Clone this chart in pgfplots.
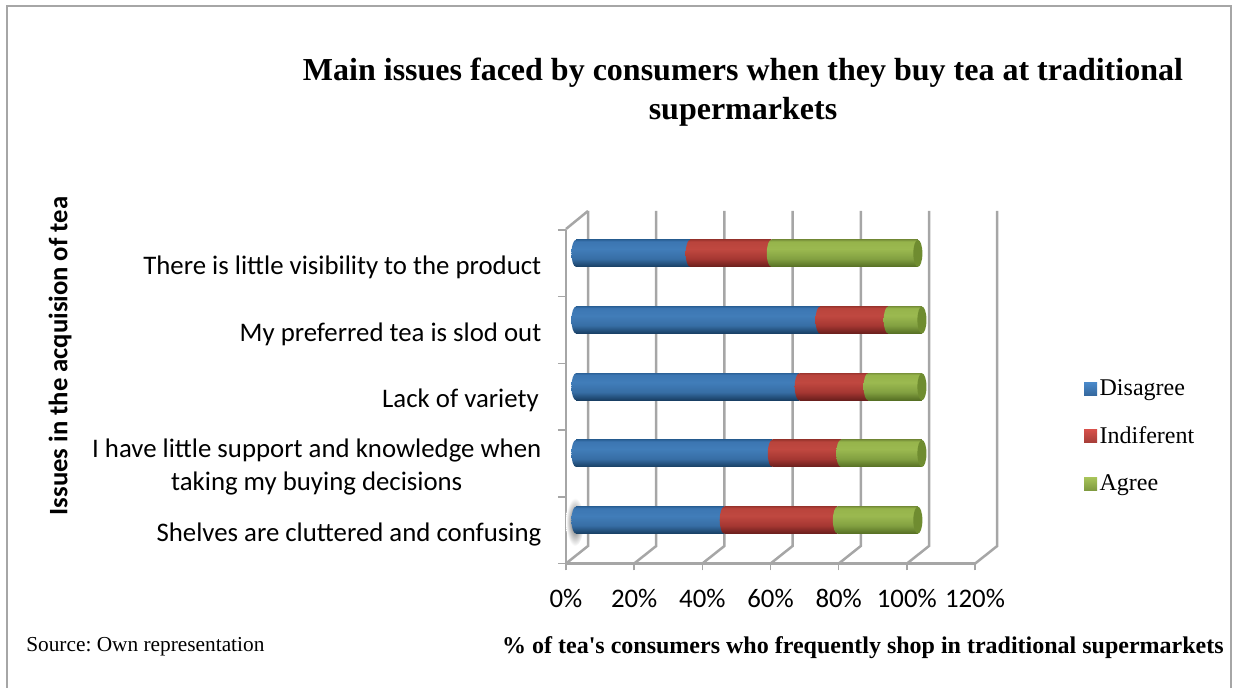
\documentclass[border=0pt]{standalone}
\usepackage{fontspec}
\setmainfont{Liberation Serif}
\newfontfamily\rawserif{Liberation Serif}
\newfontfamily\calibri{Carlito}
\usepackage{pgfplots}
\pgfplotsset{compat=1.18}

% all lengths below are reference pixels
\newcommand{\px}{0.75pt}
\definecolor{gridc}{HTML}{A6A6A6}
\definecolor{capc}{HTML}{6F8C30}
\definecolor{lbt}{HTML}{4A8ACB}\definecolor{lbb}{HTML}{35689E}
\definecolor{lrt}{HTML}{D6504A}\definecolor{lrb}{HTML}{A53E38}
\definecolor{lgt}{HTML}{A8C45A}\definecolor{lgb}{HTML}{7F9A3F}

% cylinder look: dark lower edge, flat body, thin rim on top
\pgfdeclareverticalshading{cylb}{100bp}{color(0bp)=(rgb,255:red,24;green,62;blue,98);color(25bp)=(rgb,255:red,24;green,62;blue,98);color(40bp)=(rgb,255:red,55;green,110;blue,165);color(58bp)=(rgb,255:red,65;green,125;blue,185);color(72bp)=(rgb,255:red,60;green,118;blue,178);color(75bp)=(rgb,255:red,45;green,100;blue,155);color(100bp)=(rgb,255:red,45;green,100;blue,155)}
\pgfdeclareverticalshading{cylr}{100bp}{color(0bp)=(rgb,255:red,105;green,30;blue,28);color(25bp)=(rgb,255:red,105;green,30;blue,28);color(40bp)=(rgb,255:red,165;green,55;blue,50);color(58bp)=(rgb,255:red,192;green,72;blue,64);color(72bp)=(rgb,255:red,185;green,68;blue,60);color(75bp)=(rgb,255:red,160;green,55;blue,48);color(100bp)=(rgb,255:red,160;green,55;blue,48)}
\pgfdeclareverticalshading{cylg}{100bp}{color(0bp)=(rgb,255:red,85;green,110;blue,35);color(25bp)=(rgb,255:red,85;green,110;blue,35);color(40bp)=(rgb,255:red,130;green,160;blue,65);color(58bp)=(rgb,255:red,155;green,185;blue,80);color(72bp)=(rgb,255:red,150;green,180;blue,75);color(75bp)=(rgb,255:red,125;green,150;blue,60);color(100bp)=(rgb,255:red,125;green,150;blue,60)}

\pgfdeclareplotmark{capb}{\path[draw=none,shade,shading=cylb] (canvas cs:x=0pt,y=10.125pt) arc[start angle=90,end angle=270,x radius=3.4pt,y radius=10.125pt] -- cycle;}
\pgfdeclareplotmark{capr}{\path[draw=none,shade,shading=cylr] (canvas cs:x=0pt,y=10.125pt) arc[start angle=90,end angle=270,x radius=3.4pt,y radius=10.125pt] -- cycle;}
\pgfdeclareplotmark{capg}{\path[draw=none,shade,shading=cylg] (canvas cs:x=0pt,y=10.125pt) arc[start angle=90,end angle=270,x radius=3.4pt,y radius=10.125pt] -- cycle;}
\pgfdeclareplotmark{capend}{\path[draw=none,fill=capc] (canvas cs:x=0pt,y=0pt) ellipse[x radius=3.4pt,y radius=10.125pt];}

\pgfplotsset{
  plotbox/.style={scale only axis,width=409*\px,height=333.5*\px,
    xmin=0,xmax=120,ymin=0.5,ymax=5.5,anchor=south west},
  hidden/.style={plotbox,hide axis,clip=false,at={(576*\px,{(688-553.5)*\px})}},
  swatch/.style 2 args={legend image code/.code={
    \path[draw=none,top color=#1,bottom color=#2] (canvas cs:x=0pt,y=-4.9pt) rectangle (canvas cs:x=9.75pt,y=4.9pt);}},
}
% one cylinder segment: shading, start, end, category position (half height 0.2025)
\newcommand{\seg}[4]{\addplot[draw=none,shading=#1,forget plot] coordinates
  {(#2,{#4-0.2025}) (#3,{#4-0.2025}) (#3,{#4+0.2025}) (#2,{#4+0.2025})} -- cycle;}

\begin{document}
\begin{tikzpicture}[x=\px,y=\px]
\path[use as bounding box] (0,0) rectangle (1233,688);
\draw[gridc,line width=2.5*\px] (7,0) -- (7,682) -- (1231,682) -- (1231,0);

% back wall and floor of the 3D box
\foreach \i in {0,...,6}{
  \draw[gridc,line width=2.5*\px] ({566+68.2*\i},{688-563.5}) -- ++(22,17.5) -- ++(0,335);
}
\draw[gridc,line width=2.5*\px] (566,{688-229}) -- ++(22,18);

\begin{axis}[plotbox,at={(566*\px,{(688-563.5)*\px})},
  axis x line=bottom,axis y line=left,
  axis line style={-,gridc,line width=2.5*\px},
  xtick={0,20,...,120},xticklabel={\pgfmathprintnumber{\tick}\%},
  ytick={1,...,5},
  yticklabels={Shelves are cluttered and confusing,
    {I have little support and knowledge when\\taking my buying decisions},
    Lack of variety\hspace{2pt},My preferred tea is slod out,There is little visibility to the product},
  minor ytick={0.5,1.5,...,5.5},
  /pgf/number format/assume math mode=true,
  ticklabel style={font=\calibri\fontsize{20.1}{24.75}\selectfont,text=black},
  yticklabel style={align=center,xshift=-13*\px,yshift=-4*\px},
  xticklabel style={yshift=-14*\px},
  major x tick style={gridc,line width=1.5*\px},
  major y tick style={draw=none},
  minor y tick style={gridc,line width=1.5*\px},
  tickwidth=7*\px,minor tick length=8*\px,
  tick align=outside,
  clip=false,
]
\addplot[draw=none,forget plot] coordinates {(0,1) (120,5)};
\end{axis}

% smudge behind the lowest bar
\shade[inner color=gray!70!black,outer color=white] (575,{688-522}) ellipse[x radius=9,y radius=24];

% cylinders
\begin{axis}[hidden,
  legend style={at={(1.2414,0.526)},anchor=north west,draw=none,fill=none,
    font=\frenchspacing\fontsize{18}{22}\selectfont,row sep=26.5*\px,inner sep=0pt,
    nodes={inner xsep=2pt,inner ysep=1pt}},
  legend cell align=left,
]
\addlegendimage{swatch={lbt}{lbb}}
\addlegendimage{swatch={lrt}{lrb}}
\addlegendimage{swatch={lgt}{lgb}}
\seg{cylb}{0}{43.5}{1} \seg{cylr}{43.5}{76.7}{1} \seg{cylg}{76.7}{100.3}{1}
\seg{cylb}{0}{57.6}{2} \seg{cylr}{57.6}{77.7}{2} \seg{cylg}{77.7}{101.5}{2}
\seg{cylb}{0}{65.5}{3} \seg{cylr}{65.5}{85.7}{3} \seg{cylg}{85.7}{101.5}{3}
\seg{cylb}{0}{71.6}{4} \seg{cylr}{71.6}{91.6}{4} \seg{cylg}{91.6}{101.5}{4}
\seg{cylb}{0}{33.5}{5} \seg{cylr}{33.5}{57.3}{5} \seg{cylg}{57.3}{100.3}{5}
% rounded ends of the segments
\addplot[only marks,mark=capb,forget plot] coordinates {(0,1) (0,2) (0,3) (0,4) (0,5)};
\addplot[only marks,mark=capr,forget plot] coordinates {(43.5,1) (57.6,2) (65.5,3) (71.6,4) (33.5,5)};
\addplot[only marks,mark=capg,forget plot] coordinates {(76.7,1) (77.7,2) (85.7,3) (91.6,4) (57.3,5)};
\addplot[only marks,mark=capend,forget plot] coordinates {(100.3,1) (101.5,2) (101.5,3) (101.5,4) (100.3,5)};
\legend{Disagree,Indiferent,Agree}
\end{axis}

\node[align=center,font=\bfseries\fontsize{24}{29}\selectfont] at (743,{688-92})
  {Main issues faced by consumers when they buy tea at traditional\\supermarkets};
\node[font=\rawserif\bfseries\fontsize{18}{22}\selectfont,anchor=east,inner sep=0pt] at (1224,{688-647.5})
  {\% of tea's consumers who frequently shop in traditional supermarkets};
\node[font=\frenchspacing\fontsize{16}{20}\selectfont,anchor=west,inner sep=0pt] at (26,{688-647}) {Source: Own representation};
\node[font=\calibri\bfseries\fontsize{20}{24}\selectfont,rotate=90] at (60,{688-356}) {Issues in the acquision of tea};
\end{tikzpicture}
\end{document}
